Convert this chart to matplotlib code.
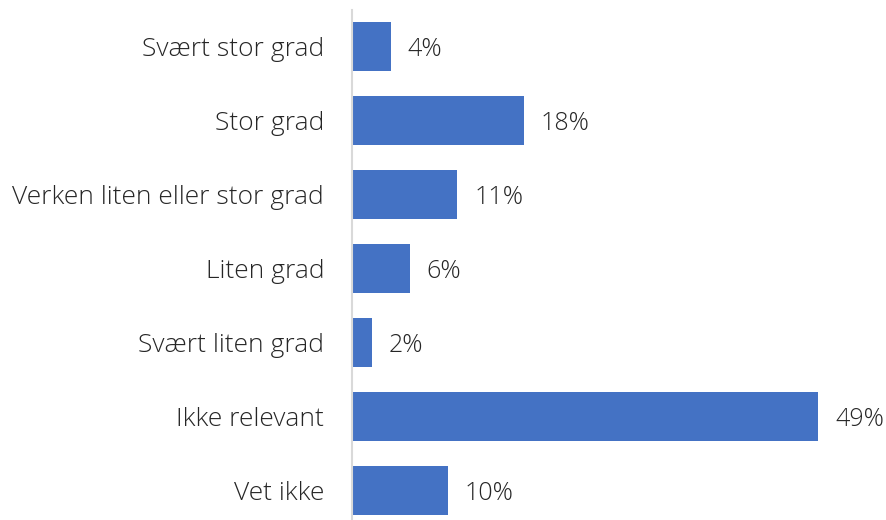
import matplotlib
matplotlib.use("Agg")
import matplotlib.pyplot as plt

# data (top to bottom)
categories = ["Svært stor grad", "Stor grad", "Verken liten eller stor grad",
              "Liten grad", "Svært liten grad", "Ikke relevant", "Vet ikke"]
values = [4, 18, 11, 6, 2, 49, 10]
value_labels = ["4%", "18%", "11%", "6%", "2%", "49%", "10%"]

plt.rcParams['font.family'] = ['Open Sans', 'DejaVu Sans']

fig = plt.figure(figsize=(8.86, 5.2), dpi=100)
ax = fig.add_axes([352 / 886, -7.5 / 520, 532 / 886, 518 / 520])

pos = list(range(len(categories)))
bars = ax.barh(pos, values, height=0.66, color='#4472C4', left=0.1)

for b, lab in zip(bars, value_labels):
    ax.annotate(lab, (b.get_x() + b.get_width(), b.get_y() + b.get_height() / 2),
                xytext=(12, 0), textcoords='offset points',
                ha='left', va='center_baseline', fontsize=18, fontweight='light',
                color='#262626')

ax.set_yticks(pos)
ax.set_yticklabels(categories, fontsize=19, fontweight='light', color='#262626')
ax.set_ylim(len(categories) - 0.5, -0.5)
ax.set_xlim(0, 56)
ax.set_xticks([])
ax.tick_params(axis='y', length=0, pad=20)

for side in ['top', 'right', 'bottom']:
    ax.spines[side].set_visible(False)
ax.spines['left'].set_color('#d9d9d9')
ax.spines['left'].set_linewidth(1.5)

fig.savefig('out.png', dpi=100)
